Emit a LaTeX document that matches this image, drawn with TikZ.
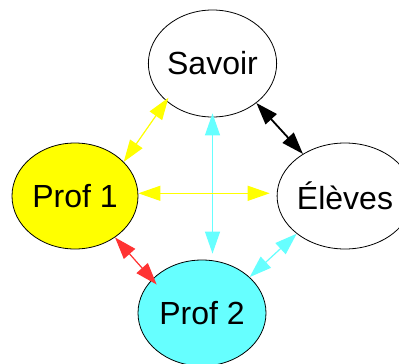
\documentclass[tikz,border=0pt]{standalone}
\usepackage{fontspec}
\setmainfont{Liberation Sans}
\usetikzlibrary{shapes.geometric,arrows.meta}
\definecolor{yel}{HTML}{FFFF00}
\definecolor{cya}{HTML}{66FFFF}
\definecolor{redd}{HTML}{FF3333}
\tikzset{
  bubble/.style={ellipse,draw=black,line width=0.8pt,inner sep=0pt,font=\fontsize{32}{36}\selectfont},
  link/.style={line width=1.2pt,{Triangle[length=22pt,width=15pt]}-{Triangle[length=22pt,width=15pt]}},
}
\begin{document}
\begin{tikzpicture}[x=1pt,y=-1pt]
\clip (0,0) rectangle (399,364);
\fill[white] (0,0) rectangle (399,364);
\node[bubble,minimum width=127pt,minimum height=107pt] (sav) at (212.5,63.5) {Savoir};
\node[bubble,fill=yel,minimum width=126pt,minimum height=106pt] (p1) at (75,196) {Prof 1};
\node[bubble,minimum width=126pt,minimum height=106pt] (el) at (345,196) {Élèves};
\node[bubble,fill=cya,minimum width=128pt,minimum height=106pt] (p2) at (202,313) {Prof 2};
% connectors
\draw[link,draw=yel,fill=yel,shorten <=-4pt] (sav.219) -- (p1.35);
\draw[link,draw=black,fill=black,line width=1.8pt] (sav.-42) -- (el.135);
\draw[link,draw=cya,fill=cya] ([yshift=4pt]sav.south) -- ([yshift=6pt]p2.north -| sav.south);
\draw[link,draw=yel,fill=yel,shorten >=7pt] ([yshift=2.7pt]p1.east) -- ([yshift=2.7pt]el.west);
\draw[link,draw=redd,fill=redd,shorten >=-7pt] (p1.-46) -- (p2.146);
\draw[link,draw=cya,fill=cya] (el.218) -- (p2.37);
\end{tikzpicture}
\end{document}
